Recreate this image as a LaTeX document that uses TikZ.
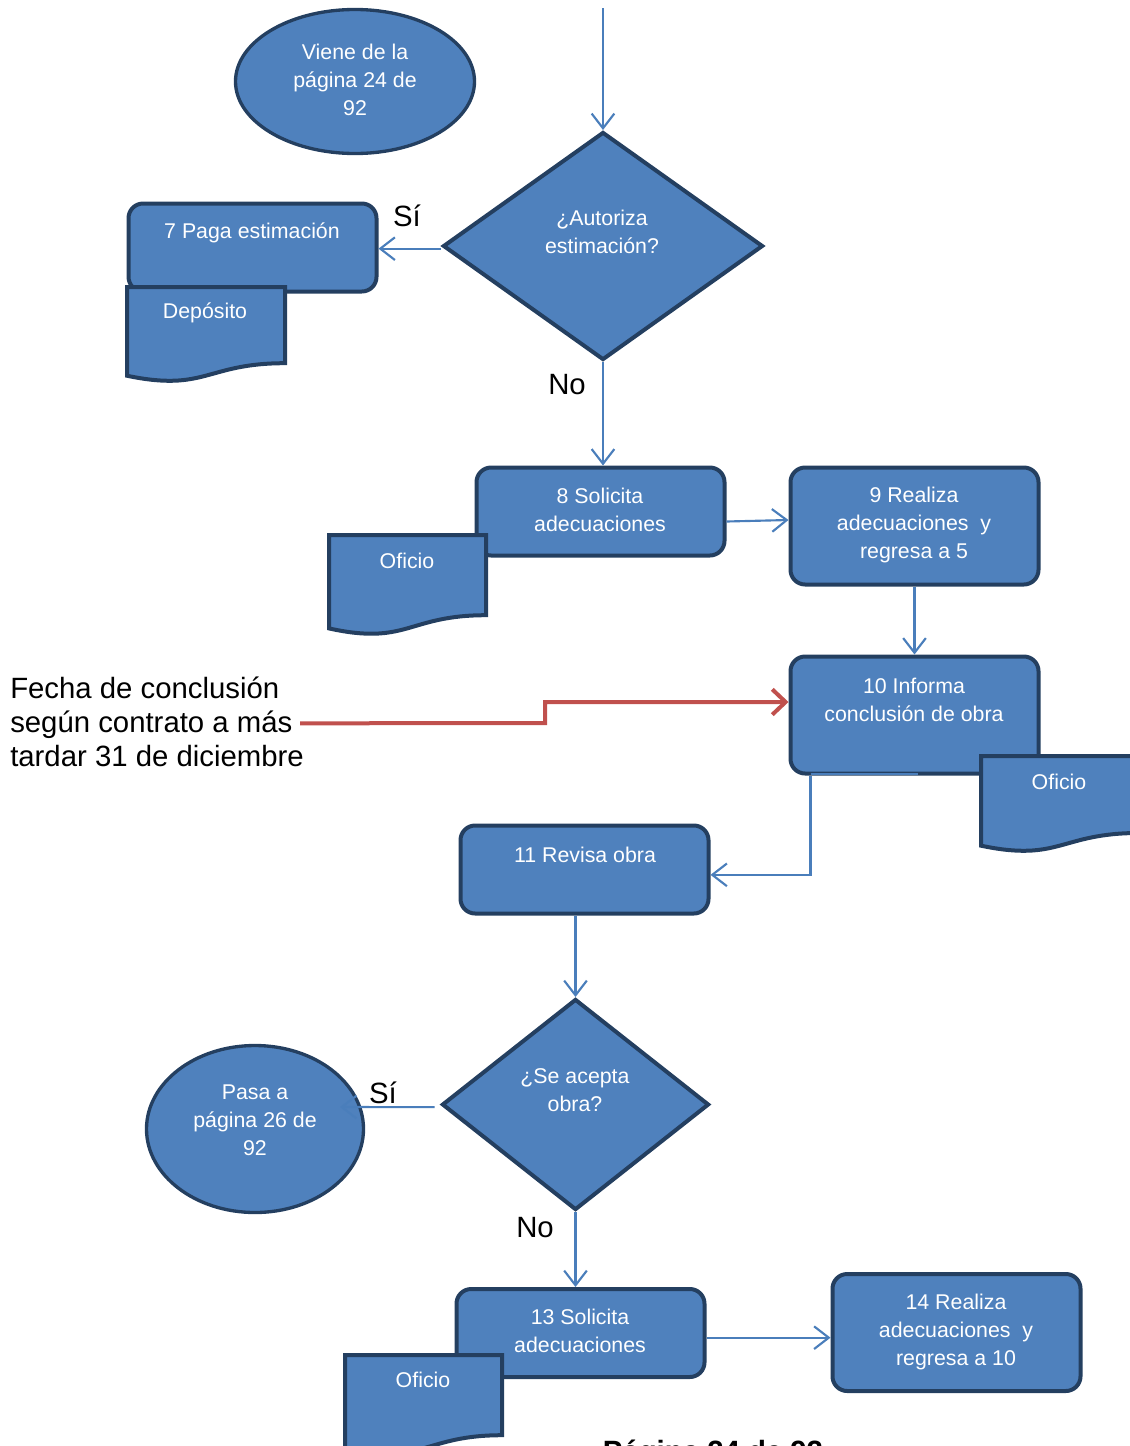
\documentclass[tikz,border=0pt]{standalone}
\usepackage{fontspec}
\setmainfont{Liberation Sans}
\usetikzlibrary{shapes.geometric,arrows.meta,calc}
\definecolor{fillblue}{HTML}{4F81BD}
\definecolor{edgeblue}{HTML}{243F60}
\definecolor{connblue}{HTML}{4A7EBB}
\definecolor{redline}{HTML}{C0504D}
\newcommand\docshape[4]{\draw[docstyle] (#1,#2) -- ({#1+#3},#2) -- ({#1+#3},{#2+0.802*#4}) .. controls ({#1+0.5*#3},{#2+0.802*#4}) and ({#1+0.5*#3},{#2+1.1075*#4}) .. (#1,{#2+0.934*#4}) -- cycle;}
\begin{document}
\begin{tikzpicture}[x=0.75pt,y=-0.75pt,
  procbox/.style={draw=edgeblue,line width=3pt,fill=fillblue,rounded corners=11pt,inner sep=0pt,minimum width=186pt},
  shortbox/.style={procbox,minimum height=66pt},
  tallbox/.style={procbox,minimum height=87.75pt},
  decision/.style={diamond,draw=edgeblue,line width=3pt,fill=fillblue,inner sep=0pt,line join=miter},
  terminal/.style={ellipse,draw=edgeblue,line width=2.5pt,fill=fillblue,inner sep=0pt},
  docstyle/.style={draw=edgeblue,line width=3pt,fill=fillblue,line join=miter},
  wtext/.style={text=white,font=\fontsize{16}{21}\selectfont,align=center,inner sep=0pt},
  btext/.style={text=black,font=\fontsize{22}{25.5}\selectfont,inner sep=0pt},
  conn/.style={draw=connblue,line width=1.6pt,-{Straight Barb[length=11pt,width=17pt]}},
  redarrow/.style={draw=redline,line width=3pt,-{Straight Barb[length=10pt,width=19pt]}}
]
\useasboundingbox (0,0) rectangle (1130,1446);

% terminals
\node[terminal,minimum width=179.25pt,minimum height=108pt] (e1) at (355,81.5) {};
\node[terminal,minimum width=162.75pt,minimum height=125.25pt] (e2) at (255,1129) {};

% decisions
\node[decision,minimum width=240pt,minimum height=171pt] (d1) at (603,246) {};
\node[decision,minimum width=200.25pt,minimum height=158.25pt] (d2) at (575.5,1104.5) {};

% process boxes
\node[shortbox] (b7) at (252.5,247.5) {};
\node[shortbox] (b8) at (600.5,511.5) {};
\node[tallbox] (b9) at (914.5,526) {};
\node[tallbox] (b10) at (914.5,715) {};
\node[shortbox] (b11) at (584.5,869.5) {};
\node[shortbox] (b13) at (580.5,1333) {};
\node[tallbox] (b14) at (956.5,1332.5) {};

% documents
\docshape{127}{287}{158}{95}
\docshape{329}{535}{157}{100}
\docshape{981}{756}{158}{96}
\docshape{345}{1355}{157}{100}

% texts in shapes
\node[wtext] (te1) at (355,80) {Viene de la\\página 24 de\\92};
\node[wtext] (td1) at (602,232) {¿Autoriza\\estimación?};
\node[wtext] (tb7) at (252,233) {7 Paga estimación};
\node[wtext] (tdep) at (205,313) {Depósito};
\node[wtext] (tb8) at (600,510) {8 Solicita\\adecuaciones};
\node[wtext] (tof1) at (407,561) {Oficio};
\node[wtext] (tb9) at (914,525) {9 Realiza\\adecuaciones\ \ y\\regresa a 5};
\node[wtext] (tb10) at (914,700) {10 Informa\\conclusión de obra};
\node[wtext] (tof2) at (1059,782) {Oficio};
\node[wtext] (tb11) at (585,855) {11 Revisa obra};
\node[wtext] (td2) at (575,1090) {¿Se acepta\\obra?};
\node[wtext] (te2) at (255,1120) {Pasa a\\página 26 de\\92};
\node[wtext] (tb13) at (580,1331) {13 Solicita\\adecuaciones};
\node[wtext] (tof3) at (423,1380) {Oficio};
\node[wtext] (tb14) at (956,1332) {14 Realiza\\adecuaciones\ \ y\\regresa a 10};

% black labels
\node[btext] (si1) at (407,216) {Sí};
\node[btext] (no1) at (567,385) {No};
\node[btext] (si2) at (383,1093) {Sí};
\node[btext] (no2) at (535,1228) {No};
\node[btext,align=left,anchor=west] (fecha) at (10,722) {Fecha de conclusión\\según contrato a más\\tardar 31 de diciembre};
\node[font=\bfseries\fontsize{22}{26}\selectfont,anchor=base,inner sep=0pt] (footer) at (713,1461) {Página 24 de 92};

% connectors
\coordinate (topin) at (603,8);
\draw[conn] (topin) -- (d1.north);
\draw[conn] ([yshift=-2pt]d1.west) -- ([yshift=-2pt]d1.west -| b7.east);
\draw[conn] (d1.south) -- (d1.south |- b8.north);
\draw[conn] ([yshift=-7.5pt]b8.east) -- ([yshift=4.5pt]b9.west);
\draw[conn] (b9.south) -- (b10.north);
\draw[draw=connblue,line width=1.5pt] (b10.south west) ++(22,-2) -- ++(107,0);
\draw[conn] (b10.south west) ++(22,0) |- ([yshift=-4pt]b11.east);
\draw[conn] (d2.north |- b11.south) -- (d2.north);
\coordinate (e2tip) at (340,1107);
\draw[conn] ([xshift=-4pt,yshift=-2pt]d2.west) -- (e2tip);
\draw[conn] (d2.south) -- (d2.south |- b13.north);
\draw[conn] ([yshift=-3.5pt]b13.east) -- ([yshift=-3.5pt]b13.east -| b14.west);

% red arrow
\coordinate (r1) at (545,723);
\coordinate (r2) at (545,702);
\draw[redarrow] ([xshift=-3pt,yshift=-1pt]fecha.east) -- (r1) -- (r2) -- (r2 -| b10.west);
\end{tikzpicture}
\end{document}
